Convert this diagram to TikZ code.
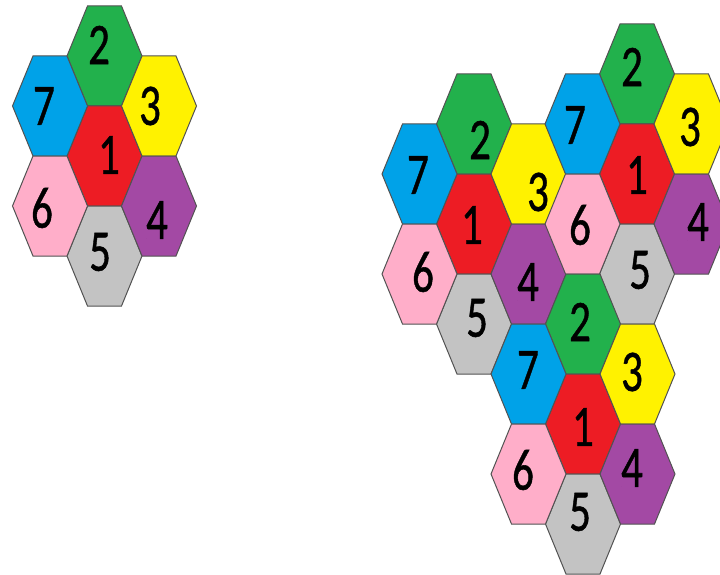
\documentclass[tikz,border=0pt]{standalone}
\usepackage{fontspec}
\setmainfont{Carlito}
\newfontfamily\digitfont[FakeBold=0.9]{Carlito}
\definecolor{hgreen}{HTML}{22B14C}
\definecolor{hblue}{HTML}{00A2E8}
\definecolor{hyellow}{HTML}{FFF200}
\definecolor{hred}{HTML}{ED1C24}
\definecolor{hpurple}{HTML}{A349A4}
\definecolor{hpink}{HTML}{FFAEC9}
\definecolor{hgray}{HTML}{C3C3C3}
\tikzset{
  hexcell/.style={draw=black!68, line width=1pt, line join=miter},
  digit/.style={inner sep=0pt, text=black, font=\digitfont\fontsize{43}{43}\selectfont}
}
\begin{document}
\begin{tikzpicture}[x=1pt,y=-1pt]
\useasboundingbox (0,0) rectangle (720,575);
\clip (0,0) rectangle (720,575);
\def\cells{
  104.5/56/hgreen/2/99/45/La2,
  104.5/156/hred/1/109/155/La1,
  104.5/256/hgray/5/100/252/La5,
  50/106/hblue/7/44/106/La7,
  50/206/hpink/6/42/208/La6,
  159/106/hyellow/3/150/106/La3,
  159/206/hpurple/4/157/220/La4,
  474/124/hgreen/2/480/140/Aa2,
  474/224/hred/1/472/225/Aa1,
  474/324/hgray/5/477/318/Aa5,
  419.5/174/hblue/7/418/175/Aa7,
  419.5/274/hpink/6/423/272/Aa6,
  528.5/174/hyellow/3/538/192/Aa3,
  528.5/274/hpurple/4/528/282/Aa4,
  637/74/hgreen/2/632/67/Ba2,
  637/174/hred/1/637/175/Ba1,
  637/274/hgray/5/640/270/Ba5,
  582.5/124/hblue/7/575/125/Ba7,
  582.5/224/hpink/6/580/225/Ba6,
  691.5/124/hyellow/3/690/127/Ba3,
  691.5/224/hpurple/4/698/222/Ba4,
  583/324/hgreen/2/580/322/Ca2,
  583/424/hred/1/583/427/Ca1,
  583/524/hgray/5/580/512/Ca5,
  528.5/374/hblue/7/528/370/Ca7,
  528.5/474/hpink/6/523/470/Ca6,
  637.5/374/hyellow/3/632/372/Ca3,
  637.5/474/hpurple/4/632/468/Ca4}
\foreach \cx/\cy/\col/\lab/\lx/\ly/\nm in \cells {
  \filldraw[hexcell, fill=\col, shift={(\cx,\cy)}]
    (-37.5,0) -- (-17,-50) -- (17,-50) -- (37.5,0) -- (17,50) -- (-17,50) -- cycle;
}
\foreach \cx/\cy/\col/\lab/\lx/\ly/\nm in \cells {
  \node[digit] (\nm) at (\lx,\ly) {\scalebox{1}[1.37]{\lab}};
}
\end{tikzpicture}
\end{document}
